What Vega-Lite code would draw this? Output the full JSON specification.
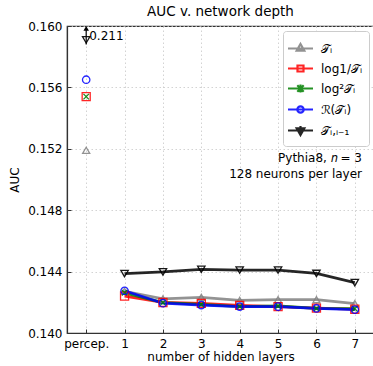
{
  "$schema": "https://vega.github.io/schema/vega-lite/v6.json",
  "width": 307,
  "height": 307,
  "autosize": "none",
  "padding": {"left": 67, "top": 26, "right": 0, "bottom": 33},
  "title": {"text": "AUC v. network depth", "fontSize": 13.5, "fontWeight": "normal", "font": "DejaVu Sans", "color": "#000", "offset": 2},
  "config": {
    "font": "DejaVu Sans",
    "view": {"stroke": "#333", "strokeWidth": 1.2},
    "axis": {
      "labelFont": "DejaVu Sans", "labelFontSize": 12, "labelColor": "#000",
      "titleFont": "DejaVu Sans", "titleFontSize": 12, "titleFontWeight": "normal", "titleColor": "#000",
      "domainColor": "#333", "domainWidth": 1.2, "tickColor": "#333",
      "gridColor": "#c8c8c8", "gridDash": [1.5, 2.5], "gridWidth": 0.8
    },
    "legend": {
      "orient": "top-right", "offset": 5, "fillColor": "white", "strokeColor": "#cccccc",
      "cornerRadius": 3, "padding": 6, "rowPadding": 1, "labelFontSize": 12, "labelFont": "DejaVu Sans",
      "labelColor": "#000", "symbolSize": 400, "symbolStrokeWidth": 2.2, "labelOffset": 9
    }
  },
  "datasets": {
    "auc": [
      {"series": "𝒯ᵢ", "layers": 0, "auc": 0.1519},
      {"series": "log1/𝒯ᵢ", "layers": 0, "auc": 0.1554},
      {"series": "log²𝒯ᵢ", "layers": 0, "auc": 0.1554},
      {"series": "ℛ(𝒯ᵢ)", "layers": 0, "auc": 0.1565},
      {"series": "𝒯ᵢ,ᵢ₋₁", "layers": 0, "auc": 0.1591},
      {"series": "𝒯ᵢ", "layers": 1, "auc": 0.14272},
      {"series": "𝒯ᵢ", "layers": 2, "auc": 0.14222},
      {"series": "𝒯ᵢ", "layers": 3, "auc": 0.14232},
      {"series": "𝒯ᵢ", "layers": 4, "auc": 0.14212},
      {"series": "𝒯ᵢ", "layers": 5, "auc": 0.14217},
      {"series": "𝒯ᵢ", "layers": 6, "auc": 0.14217},
      {"series": "𝒯ᵢ", "layers": 7, "auc": 0.14192},
      {"series": "log1/𝒯ᵢ", "layers": 1, "auc": 0.14241},
      {"series": "log1/𝒯ᵢ", "layers": 2, "auc": 0.14199},
      {"series": "log1/𝒯ᵢ", "layers": 3, "auc": 0.14193},
      {"series": "log1/𝒯ᵢ", "layers": 4, "auc": 0.14180},
      {"series": "log1/𝒯ᵢ", "layers": 5, "auc": 0.14172},
      {"series": "log1/𝒯ᵢ", "layers": 6, "auc": 0.14162},
      {"series": "log1/𝒯ᵢ", "layers": 7, "auc": 0.14155},
      {"series": "log²𝒯ᵢ", "layers": 1, "auc": 0.14262},
      {"series": "log²𝒯ᵢ", "layers": 2, "auc": 0.14198},
      {"series": "log²𝒯ᵢ", "layers": 3, "auc": 0.14186},
      {"series": "log²𝒯ᵢ", "layers": 4, "auc": 0.14172},
      {"series": "log²𝒯ᵢ", "layers": 5, "auc": 0.14176},
      {"series": "log²𝒯ᵢ", "layers": 6, "auc": 0.14160},
      {"series": "log²𝒯ᵢ", "layers": 7, "auc": 0.14158},
      {"series": "ℛ(𝒯ᵢ)", "layers": 1, "auc": 0.14275},
      {"series": "ℛ(𝒯ᵢ)", "layers": 2, "auc": 0.14194},
      {"series": "ℛ(𝒯ᵢ)", "layers": 3, "auc": 0.14182},
      {"series": "ℛ(𝒯ᵢ)", "layers": 4, "auc": 0.14172},
      {"series": "ℛ(𝒯ᵢ)", "layers": 5, "auc": 0.14172},
      {"series": "ℛ(𝒯ᵢ)", "layers": 6, "auc": 0.14160},
      {"series": "ℛ(𝒯ᵢ)", "layers": 7, "auc": 0.14152},
      {"series": "𝒯ᵢ,ᵢ₋₁", "layers": 1, "auc": 0.14387},
      {"series": "𝒯ᵢ,ᵢ₋₁", "layers": 2, "auc": 0.14398},
      {"series": "𝒯ᵢ,ᵢ₋₁", "layers": 3, "auc": 0.14415},
      {"series": "𝒯ᵢ,ᵢ₋₁", "layers": 4, "auc": 0.14410},
      {"series": "𝒯ᵢ,ᵢ₋₁", "layers": 5, "auc": 0.14410},
      {"series": "𝒯ᵢ,ᵢ₋₁", "layers": 6, "auc": 0.14388},
      {"series": "𝒯ᵢ,ᵢ₋₁", "layers": 7, "auc": 0.14328}
    ],
    "arrow": [
      {"layers": 0, "lo": 0.1588, "hi": 0.15985, "label": "0.211"}
    ],
    "notes": [
      {"layers": 7.5, "auc": 0.1514, "text": "Pythia8, 𝑛 = 3"},
      {"layers": 7.5, "auc": 0.15035, "text": "128 neurons per layer"}
    ]
  },
  "layer": [
    {
      "data": {"name": "auc"},
      "transform": [{"filter": "datum.layers > 0"}],
      "mark": {"type": "line", "strokeWidth": 2.8, "opacity": 0.85},
      "encoding": {
        "x": {"field": "layers", "type": "quantitative",
              "scale": {"domain": [-0.5, 7.5], "nice": false, "zero": false},
              "axis": {"values": [0, 1, 2, 3, 4, 5, 6, 7], "labelExpr": "datum.value == 0 ? 'percep.' : datum.label",
                       "title": "number of hidden layers", "tickSize": -4, "labelPadding": 9, "titlePadding": 2, "grid": true}},
        "y": {"field": "auc", "type": "quantitative",
              "scale": {"domain": [0.14, 0.16], "nice": false, "zero": false},
              "axis": {"values": [0.14, 0.142, 0.144, 0.146, 0.148, 0.15, 0.152, 0.154, 0.156, 0.158, 0.16],
                       "format": ".3f", "title": "AUC", "tickSize": -4, "labelPadding": 9, "titlePadding": 6, "grid": true}},
        "color": {"field": "series", "type": "nominal",
                  "scale": {"domain": ["𝒯ᵢ", "log1/𝒯ᵢ", "log²𝒯ᵢ", "ℛ(𝒯ᵢ)", "𝒯ᵢ,ᵢ₋₁"],
                            "range": ["#808080", "#ff0000", "#008000", "#0000ff", "#000000"]},
                  "legend": {"title": null}},
        "detail": {"field": "series"},
        "order": {"field": "layers"}
      }
    },
    {
      "data": {"name": "auc"},
      "transform": [{"filter": "datum.layers < 0"}],
      "mark": {"type": "point", "filled": false, "strokeWidth": 2.2, "opacity": 0.85},
      "encoding": {
        "x": {"field": "layers", "type": "quantitative"},
        "y": {"field": "auc", "type": "quantitative"},
        "color": {"field": "series", "type": "nominal", "legend": {"title": null}},
        "shape": {"field": "series", "type": "nominal", "legend": {"title": null},
                  "scale": {"domain": ["𝒯ᵢ", "log1/𝒯ᵢ", "log²𝒯ᵢ", "ℛ(𝒯ᵢ)", "𝒯ᵢ,ᵢ₋₁"],
                            "range": ["M-1.25,0H1.25M0,-0.45L0.38,0.22L-0.38,0.22Z",
                                      "M-1.25,0H1.25M-0.3,-0.3H0.3V0.3H-0.3Z",
                                      "M-1.25,0H1.25M-0.32,-0.32L0.32,0.32M-0.32,0.32L0.32,-0.32M0,-0.4V0.4",
                                      "M-1.25,0H1.25M0.32,0A0.32,0.32 0 1,1 -0.32,0A0.32,0.32 0 1,1 0.32,0",
                                      "M-1.25,0H1.25M0,0.45L0.38,-0.22L-0.38,-0.22ZM0,-0.45V0.45"]}}
      }
    },
    {
      "data": {"name": "auc"},
      "transform": [{"filter": "datum.series == '𝒯ᵢ'"}],
      "mark": {"type": "point", "shape": "triangle-up", "filled": false, "strokeWidth": 1.3, "size": 50, "opacity": 0.85, "color": "#808080"},
      "encoding": {"x": {"field": "layers", "type": "quantitative"}, "y": {"field": "auc", "type": "quantitative"}}
    },
    {
      "data": {"name": "auc"},
      "transform": [{"filter": "datum.series == 'log1/𝒯ᵢ'"}],
      "mark": {"type": "point", "shape": "square", "filled": false, "strokeWidth": 1.3, "size": 65, "opacity": 0.85, "color": "#ff0000"},
      "encoding": {"x": {"field": "layers", "type": "quantitative"}, "y": {"field": "auc", "type": "quantitative"}}
    },
    {
      "data": {"name": "auc"},
      "transform": [{"filter": "datum.series == 'log²𝒯ᵢ'"}],
      "mark": {"type": "point", "shape": "M-1,-1L1,1M-1,1L1,-1", "filled": false, "strokeWidth": 1.3, "size": 30, "opacity": 0.9, "color": "#008000"},
      "encoding": {"x": {"field": "layers", "type": "quantitative"}, "y": {"field": "auc", "type": "quantitative"}}
    },
    {
      "data": {"name": "auc"},
      "transform": [{"filter": "datum.series == 'ℛ(𝒯ᵢ)'"}],
      "mark": {"type": "point", "shape": "circle", "filled": false, "strokeWidth": 1.3, "size": 55, "opacity": 0.85, "color": "#0000ff"},
      "encoding": {"x": {"field": "layers", "type": "quantitative"}, "y": {"field": "auc", "type": "quantitative"}}
    },
    {
      "data": {"name": "auc"},
      "transform": [{"filter": "datum.series == '𝒯ᵢ,ᵢ₋₁'"}],
      "mark": {"type": "point", "shape": "triangle-down", "filled": false, "strokeWidth": 1.3, "size": 55, "opacity": 0.9, "color": "#000000"},
      "encoding": {"x": {"field": "layers", "type": "quantitative"}, "y": {"field": "auc", "type": "quantitative"}}
    },
    {
      "data": {"name": "arrow"},
      "mark": {"type": "rule", "color": "#000", "strokeWidth": 1.2},
      "encoding": {
        "x": {"field": "layers", "type": "quantitative"},
        "y": {"field": "lo", "type": "quantitative"},
        "y2": {"field": "hi"}
      }
    },
    {
      "data": {"name": "arrow"},
      "mark": {"type": "point", "shape": "triangle-up", "filled": true, "color": "#000", "size": 30, "opacity": 1},
      "encoding": {
        "x": {"field": "layers", "type": "quantitative"},
        "y": {"field": "hi", "type": "quantitative"}
      }
    },
    {
      "data": {"name": "arrow"},
      "mark": {"type": "text", "align": "left", "baseline": "middle", "dx": 3, "dy": -8, "fontSize": 12, "color": "#000"},
      "encoding": {
        "x": {"field": "layers", "type": "quantitative"},
        "y": {"field": "lo", "type": "quantitative"},
        "text": {"field": "label"}
      }
    },
    {
      "data": {"name": "notes"},
      "mark": {"type": "text", "align": "right", "baseline": "middle", "dx": -12, "fontSize": 12, "color": "#000"},
      "encoding": {
        "x": {"field": "layers", "type": "quantitative"},
        "y": {"field": "auc", "type": "quantitative"},
        "text": {"field": "text"}
      }
    }
  ]
}
